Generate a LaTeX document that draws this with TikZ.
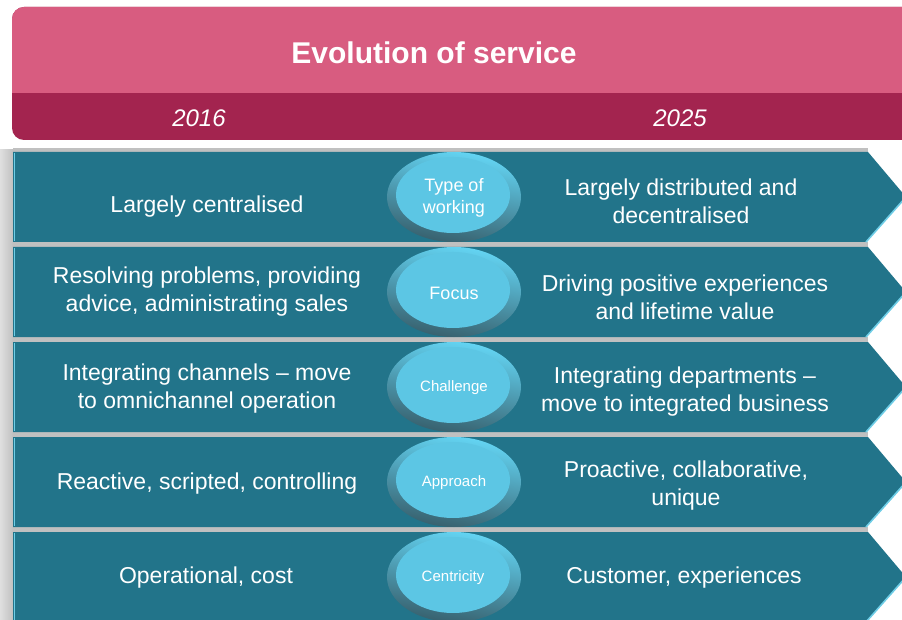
\documentclass[tikz,border=0pt]{standalone}
\usepackage{fontspec}
\setmainfont{Liberation Sans}
\newlength{\du}
\setlength{\du}{1pt}
\definecolor{headpink}{RGB}{216,92,128}
\definecolor{headdark}{RGB}{163,36,79}
\definecolor{rowteal}{RGB}{34,116,138}
\definecolor{rowedge}{RGB}{110,205,230}
\definecolor{ovalcyan}{RGB}{92,198,228}
\definecolor{ovallight}{RGB}{100,214,245}
\definecolor{ovaldark}{RGB}{55,95,108}
\definecolor{gapgray}{RGB}{192,192,192}
\tikzset{
  rowbox/.style={fill=rowteal},
  rowedge/.style={draw=rowedge, line width=1.6\du},
  ovalring/.style={top color=ovallight, bottom color=ovaldark, shading angle=-10},
  ovalcore/.style={fill=ovalcyan},
  rowtext/.style={text=white, align=center, font=\fontsize{23}{28}\selectfont},
  ovaltext/.style={text=white, align=center, font=\fontsize{15}{22}\selectfont},
}

\begin{document}
\begin{tikzpicture}
\pgftransformyscale{-1.000000}
\useasboundingbox (0\du,0\du) rectangle (902\du,620\du);
\fill[white] (0\du,0\du) rectangle (902\du,620\du);
% shadow at the left
\shade[left color=gapgray!50, right color=gapgray] (0\du,150\du) rectangle (13\du,620\du);
% header
\fill[headdark, rounded corners=12\du] (12\du,7\du) rectangle (925\du,140\du);
\fill[headpink] (12\du,93\du) [rounded corners=12\du] -- (12\du,7\du) -- (925\du,7\du) [sharp corners] -- (925\du,93\du) -- cycle;
\node[text=white, font=\fontsize{30}{34}\selectfont\bfseries] (title) at (434\du,53\du) {Evolution of service};
\node[text=white, font=\fontsize{24}{28}\selectfont\itshape] (yearold) at (199\du,118\du) {2016};
\node[text=white, font=\fontsize{24}{28}\selectfont\itshape] (yearnew) at (680\du,118\du) {2025};
% gaps between rows
\fill[gapgray] (13\du,148\du) rectangle (868\du,152\du);
\fill[gapgray] (13\du,242\du) rectangle (868\du,247\du);
\fill[gapgray] (13\du,337\du) rectangle (868\du,342\du);
\fill[gapgray] (13\du,432\du) rectangle (868\du,437\du);
\fill[gapgray] (13\du,527\du) rectangle (868\du,532\du);
% row 1
\fill[rowbox] (13\du,152\du)--(868\du,152\du)--(906\du,197\du)--(866\du,242\du)--(13\du,242\du)--cycle;
\draw[rowedge] (906\du,197\du)--(866\du,242\du);
\draw[rowedge, line width=0.8\du] (14\du,153\du)--(14\du,241\du);
% row 2
\fill[rowbox] (13\du,247\du)--(868\du,247\du)--(906\du,292\du)--(866\du,337\du)--(13\du,337\du)--cycle;
\draw[rowedge] (906\du,292\du)--(866\du,337\du);
\draw[rowedge, line width=0.8\du] (14\du,248\du)--(14\du,336\du);
% row 3
\fill[rowbox] (13\du,342\du)--(868\du,342\du)--(906\du,387\du)--(866\du,432\du)--(13\du,432\du)--cycle;
\draw[rowedge] (906\du,387\du)--(866\du,432\du);
\draw[rowedge, line width=0.8\du] (14\du,343\du)--(14\du,431\du);
% row 4
\fill[rowbox] (13\du,437\du)--(868\du,437\du)--(906\du,482\du)--(866\du,527\du)--(13\du,527\du)--cycle;
\draw[rowedge] (906\du,482\du)--(866\du,527\du);
\draw[rowedge, line width=0.8\du] (14\du,438\du)--(14\du,526\du);
% row 5
\fill[rowbox] (13\du,532\du)--(868\du,532\du)--(906\du,577\du)--(866\du,622\du)--(13\du,622\du)--cycle;
\draw[rowedge] (906\du,577\du)--(866\du,622\du);
\draw[rowedge, line width=0.8\du] (14\du,533\du)--(14\du,621\du);
% ovals
\shade[ovalring] (454\du,197\du) ellipse [x radius=67\du, y radius=45\du];
\fill[ovalcore] (453\du,195\du) ellipse [x radius=57\du, y radius=38\du];
\shade[ovalring] (454\du,292\du) ellipse [x radius=67\du, y radius=45\du];
\fill[ovalcore] (453\du,290\du) ellipse [x radius=57\du, y radius=38\du];
\shade[ovalring] (454\du,387\du) ellipse [x radius=67\du, y radius=45\du];
\fill[ovalcore] (453\du,385\du) ellipse [x radius=57\du, y radius=38\du];
\shade[ovalring] (454\du,482\du) ellipse [x radius=67\du, y radius=45\du];
\fill[ovalcore] (453\du,480\du) ellipse [x radius=57\du, y radius=38\du];
\shade[ovalring] (454\du,577\du) ellipse [x radius=67\du, y radius=45\du];
\fill[ovalcore] (453\du,575\du) ellipse [x radius=57\du, y radius=38\du];
% labels
\node[rowtext] (old1) at (207\du,207\du) {Largely centralised};
\node[ovaltext, font=\fontsize{18}{22}\selectfont] (oval1) at (454\du,198\du) {Type of\\working};
\node[rowtext] (new1) at (681\du,201\du) {Largely distributed and\\decentralised};
\node[rowtext] (old2) at (207\du,292\du) {Resolving problems, providing\\advice, administrating sales};
\node[ovaltext, font=\fontsize{18}{22}\selectfont] (oval2) at (454\du,293\du) {Focus};
\node[rowtext] (new2) at (685\du,297\du) {Driving positive experiences\\and lifetime value};
\node[rowtext] (old3) at (207\du,389\du) {Integrating channels -- move\\to omnichannel operation};
\node[ovaltext] (oval3) at (454\du,388\du) {Challenge};
\node[rowtext] (new3) at (685\du,392\du) {Integrating departments --\\move to integrated business};
\node[rowtext] (old4) at (207\du,484\du) {Reactive, scripted, controlling};
\node[ovaltext] (oval4) at (454\du,483\du) {Approach};
\node[rowtext] (new4) at (686\du,486\du) {Proactive, collaborative,\\unique};
\node[rowtext] (old5) at (206\du,578\du) {Operational, cost};
\node[ovaltext] (oval5) at (453\du,578\du) {Centricity};
\node[rowtext] (new5) at (684\du,578\du) {Customer, experiences};
\end{tikzpicture}
\end{document}
